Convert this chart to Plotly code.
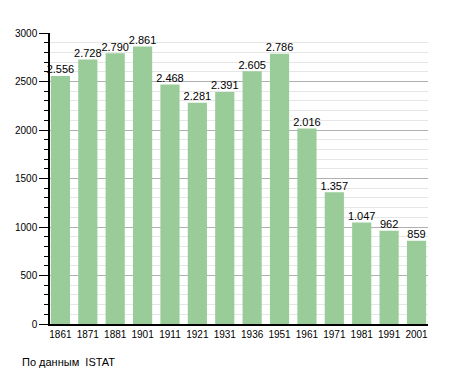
import plotly.graph_objects as go

years = ["1861", "1871", "1881", "1901", "1911", "1921", "1931", "1936", "1951", "1961", "1971", "1981", "1991", "2001"]
population = [2556, 2728, 2790, 2861, 2468, 2281, 2391, 2605, 2786, 2016, 1357, 1047, 962, 859]
labels = ["2.556", "2.728", "2.790", "2.861", "2.468", "2.281", "2.391", "2.605", "2.786", "2.016", "1.357", "1.047", "962", "859"]

FONT = "Liberation Sans, Arial, sans-serif"

fig = go.Figure()
fig.add_trace(go.Bar(
    x=years, y=population,
    marker=dict(color="#99CC99", line=dict(width=0)),
    width=0.7, hoverinfo="x+y",
))
fig.add_trace(go.Scatter(
    x=years, y=population, text=labels, mode="text", textposition="top center",
    textfont=dict(size=11, color="#000000", family=FONT),
    cliponaxis=False, hoverinfo="skip",
))
fig.update_layout(
    width=447, height=365,
    margin=dict(l=42, r=27, t=25, b=49, autoexpand=False),
    paper_bgcolor="white", plot_bgcolor="white",
    font=dict(family=FONT, size=10, color="#000000"),
    showlegend=False,
    annotations=[dict(text="По данным  ISTAT", xref="paper", yref="paper",
                      x=-0.079, y=-0.131, xanchor="left", yanchor="middle",
                      showarrow=False, font=dict(size=11, family=FONT))],
)
fig.update_xaxes(
    type="category", range=[-0.38, 13.42], automargin=False,
    showline=True, linecolor="#000000", linewidth=1.5,
    ticks="", showgrid=False, tickfont=dict(size=10),
)
fig.update_yaxes(
    range=[0, 3000], dtick=500, automargin=False,
    showline=True, linecolor="#000000", linewidth=1.5,
    ticks="outside", ticklen=9, tickcolor="#000000",
    showgrid=True, gridcolor="#b0b0b0", gridwidth=1,
    minor=dict(dtick=100, showgrid=True, gridcolor="#e6e6e6", ticks="outside", ticklen=4, tickcolor="#000000"),
    zeroline=False, tickfont=dict(size=10),
)
fig.write_html("out.html")
